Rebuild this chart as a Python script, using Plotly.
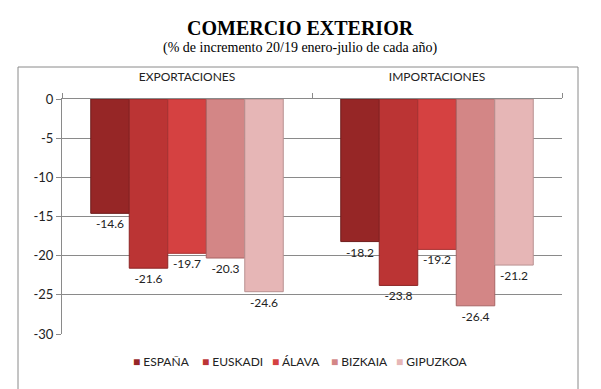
import plotly.graph_objects as go

categories = ["EXPORTACIONES", "IMPORTACIONES"]
series_names = ["ESPAÑA", "EUSKADI", "ÁLAVA", "BIZKAIA", "GIPUZKOA"]
espana = [-14.6, -18.2]
euskadi = [-21.6, -23.8]
alava = [-19.7, -19.2]
bizkaia = [-20.3, -26.4]
gipuzkoa = [-24.6, -21.2]
y_ticks = [0, -5, -10, -15, -20, -25, -30]
y_tick_labels = ["0", "-5", "-10", "-15", "-20", "-25", "-30"]

series_values = [espana, euskadi, alava, bizkaia, gipuzkoa]
colors = ["#962626", "#bb3434", "#d54141", "#d38686", "#e6b6b6"]
edges = ["#6e1c1c", "#8c2626", "#a83232", "#a86464", "#b89090"]

font_main = "Lato, 'Open Sans', sans-serif"

# page has an 8px body margin; figure sized to fill the rest of the window
OFF = 8
FW, FH = 601 - OFF, 389 - OFF
# plot-area geometry in screen pixels
L, R, T, B = 62, 562, 99, 334
W, H = R - L, B - T
def px(x): return (x - L) / W
def py(y): return (B - y) / H

fig = go.Figure()
for name, vals, c, e in zip(series_names, series_values, colors, edges):
    fig.add_trace(go.Bar(
        x=categories, y=vals, name=name,
        marker=dict(color=c, line=dict(color=e, width=1)),
        text=[f"{v:.1f}" for v in vals],
        textposition="outside",
        textfont=dict(family=font_main, size=12, color="#222"),
        cliponaxis=False,
        showlegend=False,
    ))

legend_x = [131, 200, 270, 329, 394]
annotations = [
    dict(text="<b>COMERCIO EXTERIOR</b>", xref="paper", yref="paper",
         x=px(300), y=py(28), xanchor="center", yanchor="middle",
         showarrow=False, font=dict(family="Liberation Serif", size=20, color="#000")),
    dict(text="(% de incremento 20/19 enero-julio de cada año)", xref="paper", yref="paper",
         x=px(300), y=py(48), xanchor="center", yanchor="middle",
         showarrow=False, font=dict(family="Liberation Serif", size=14, color="#000")),
]
for name, c, lx in zip(series_names, colors, legend_x):
    annotations.append(dict(
        text=f"<span style='color:{c}'>■</span> {name}", xref="paper", yref="paper",
        x=px(lx), y=py(361), xanchor="left", yanchor="middle", showarrow=False,
        font=dict(family=font_main, size=12, color="#222"),
    ))

fig.update_layout(
    width=FW, height=FH,
    barmode="group", bargap=0.23, bargroupgap=0,
    plot_bgcolor="white", paper_bgcolor="white",
    margin=dict(l=L - OFF, r=FW - (R - OFF), t=T - OFF, b=FH - (B - OFF), autoexpand=False),
    font=dict(family=font_main, size=12, color="#222"),
    annotations=annotations,
    shapes=[
        dict(type="rect", xref="paper", yref="paper",
             x0=px(18), x1=px(578),
             y0=-0.4, y1=py(67),
             line=dict(color="#8a8a8a", width=1), layer="below"),
    ],
)

fig.update_xaxes(
    side="top", showline=True, linecolor="#8a8a8a", linewidth=1, automargin=False,
    ticks="outside", tickson="boundaries", ticklen=5, tickcolor="#8a8a8a",
    ticklabelstandoff=12, tickfont=dict(size=12, family=font_main, color="#222"),
    showgrid=False,
)
fig.update_yaxes(
    range=[-30, 0], tickvals=y_ticks, ticktext=y_tick_labels, automargin=False,
    showline=True, linecolor="#8a8a8a", linewidth=1,
    ticks="outside", ticklen=5, tickcolor="#8a8a8a",
    showgrid=True, gridcolor="#8a8a8a", gridwidth=1, zeroline=False,
    tickfont=dict(size=13, family=font_main, color="#222"),
)

fig.write_html("out.html")
